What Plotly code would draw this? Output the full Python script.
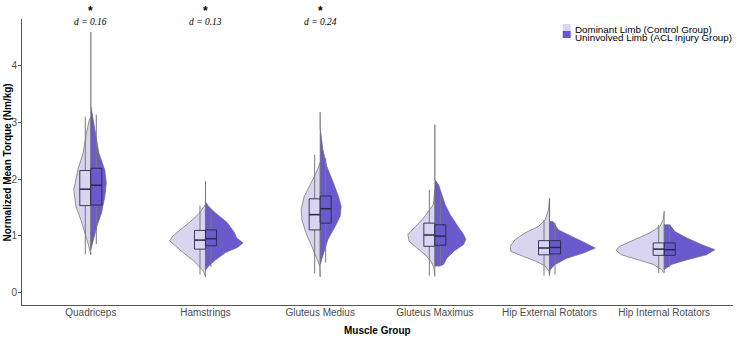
import plotly.graph_objects as go

# ---------------- data ----------------
categories = ["Quadriceps", "Hamstrings", "Gluteus Medius", "Gluteus Maximus",
              "Hip External Rotators", "Hip Internal Rotators"]

# violin half-profiles: y levels and relative density widths
ctrl_y = [
    [0.66, 0.81, 1.05, 1.28, 1.52, 1.81, 2.16, 2.46, 2.80, 3.05, 3.10],
    [0.27, 0.37, 0.46, 0.57, 0.69, 0.81, 0.91, 0.99, 1.10, 1.28, 1.40, 1.55],
    [0.27, 0.46, 0.57, 0.81, 1.05, 1.28, 1.46, 1.69, 1.93, 2.11, 2.29],
    [0.28, 0.43, 0.54, 0.66, 0.78, 0.90, 1.02, 1.13, 1.31, 1.49, 1.55, 1.81],
    [0.29, 0.37, 0.46, 0.54, 0.63, 0.72, 0.81, 0.93, 1.05, 1.16, 1.28, 1.46, 1.65],
    [0.34, 0.40, 0.49, 0.57, 0.66, 0.74, 0.81, 0.93, 1.05, 1.16, 1.28, 1.43],
]
ctrl_d = [
    [0, 2, 6, 10, 15, 17, 13, 7.7, 4.5, 1.5, 0],
    [0, 2, 6.7, 13, 21.7, 30, 36, 32.7, 25, 13, 6, 0],
    [0, 0.5, 2.7, 8.3, 14.3, 18.3, 19, 16, 9, 4, 0],
    [0, 1, 3.7, 9.7, 18, 25.7, 27, 21.3, 11.3, 4, 1.5, 0],
    [0, 0.5, 4.3, 12.7, 26, 38.7, 39.3, 34.3, 24.3, 11, 4.3, 1, 0],
    [0, 2.7, 11, 26, 42.7, 48.3, 44.3, 29.3, 14.3, 4.3, 1, 0],
]
acl_y = [
    [0.75, 0.93, 1.16, 1.40, 1.69, 1.93, 2.16, 2.46, 3.05, 3.30, 4.60],
    [0.39, 0.46, 0.57, 0.70, 0.79, 0.87, 0.96, 1.05, 1.23, 1.40, 1.52, 1.60, 1.96],
    [0.49, 0.69, 0.93, 1.16, 1.34, 1.52, 1.69, 1.93, 2.22, 2.52, 2.90, 3.18],
    [0.46, 0.46, 0.49, 0.60, 0.72, 0.84, 0.93, 1.02, 1.19, 1.37, 1.55, 1.72, 1.90, 1.99, 2.96],
    [0.31, 0.40, 0.49, 0.60, 0.69, 0.78, 0.87, 0.99, 1.10, 1.25, 1.25, 1.66],
    [0.40, 0.43, 0.49, 0.57, 0.66, 0.75, 0.84, 0.96, 1.07, 1.19, 1.19],
]
acl_d = [
    [0, 2.3, 6, 10.7, 14, 15.5, 14, 8, 2.3, 0, 0],
    [0, 3.3, 10, 20, 32, 37.5, 31, 29, 21.7, 10, 3, 0, 0],
    [0, 3.3, 7.7, 15, 20, 21, 18.3, 13.3, 6.7, 2.7, 0, 0],
    [0, 5, 8.7, 12, 18.7, 28.7, 31, 28.7, 22, 15.3, 10.3, 7, 3.7, 0, 0],
    [0, 0.7, 5.7, 17.3, 34, 45.7, 35.7, 22, 9, 3.3, 0, 0],
    [0, 2.3, 7.3, 22.3, 42.3, 50.7, 37.3, 22.3, 10.7, 5.7, 0],
]

# boxplot statistics
ctrl_q1 = [1.53, 0.76, 1.10, 0.81, 0.66, 0.65]
ctrl_med = [1.82, 0.92, 1.37, 1.01, 0.78, 0.76]
ctrl_q3 = [2.15, 1.09, 1.65, 1.22, 0.91, 0.87]
ctrl_lo = [0.67, 0.31, 0.33, 0.29, 0.29, 0.34]
ctrl_hi = [3.10, 1.53, 2.43, 1.81, 1.28, 1.19]
acl_q1 = [1.54, 0.82, 1.22, 0.83, 0.675, 0.65]
acl_med = [1.89, 0.945, 1.475, 0.99, 0.79, 0.75]
acl_q3 = [2.19, 1.10, 1.70, 1.19, 0.91, 0.87]
acl_lo = [0.85, 0.445, 0.52, 0.49, 0.31, 0.445]
acl_hi = [3.14, 1.47, 2.37, 1.72, 1.23, 1.18]

effect_labels = ["d = 0.16", "d = 0.13", "d = 0.24", "", "", ""]
y_ticks = [0, 1, 2, 3, 4]
legend_items = ["Dominant Limb (Control Group)", "Uninvolved Limb (ACL Injury Group)"]

# ---------------- styles ----------------
C_CTRL = "#d9d5f1"
C_ACL = "#6a5acd"
OUTLINE = "#6b6b6b"
BOXLINE = "#2a2648"
WHISK = "#7a7a7a"
VIOLIN_SCALE = 1 / 114.7
BOX_W = 0.096

fig = go.Figure()
n = len(categories)


def violin_path(sign, ys, ds):
    xs, yy = [], []
    for i, (yl, dl) in enumerate(zip(ys, ds)):
        xs += [i + sign * d * VIOLIN_SCALE for d in dl] + [i, i]
        yy += list(yl) + [yl[-1], yl[0]]
        xs.append(None)
        yy.append(None)
    return xs, yy


for sign, ys, ds, col in [(-1, ctrl_y, ctrl_d, C_CTRL), (1, acl_y, acl_d, C_ACL)]:
    xs, yy = violin_path(sign, ys, ds)
    fig.add_trace(go.Scatter(x=xs, y=yy, mode="lines", fill="toself", fillcolor=col,
                             line=dict(color=OUTLINE, width=0.7), showlegend=False,
                             hoverinfo="skip"))

# whiskers
for sign, lo, hi in [(-1, ctrl_lo, ctrl_hi), (1, acl_lo, acl_hi)]:
    xs, yy = [], []
    for i in range(n):
        xx = i + sign * BOX_W / 2
        xs += [xx, xx, None]
        yy += [lo[i], hi[i], None]
    fig.add_trace(go.Scatter(x=xs, y=yy, mode="lines", line=dict(color=WHISK, width=1),
                             showlegend=False, hoverinfo="skip"))

# boxes (q1..q3 rectangles) and medians
for sign, q1, med, q3, col in [(-1, ctrl_q1, ctrl_med, ctrl_q3, C_CTRL),
                                (1, acl_q1, acl_med, acl_q3, C_ACL)]:
    bx, by, mx, my = [], [], [], []
    for i in range(n):
        xa, xb = i, i + sign * BOX_W
        bx += [xa, xb, xb, xa, xa, None]
        by += [q1[i], q1[i], q3[i], q3[i], q1[i], None]
        mx += [xa, xb, None]
        my += [med[i], med[i], None]
    fig.add_trace(go.Scatter(x=bx, y=by, mode="lines", fill="toself", fillcolor=col,
                             line=dict(color=BOXLINE, width=0.9), showlegend=False,
                             hoverinfo="skip"))
    fig.add_trace(go.Scatter(x=mx, y=my, mode="lines", line=dict(color=BOXLINE, width=1.5),
                             showlegend=False, hoverinfo="skip"))

annotations = []
for i, lab in enumerate(effect_labels):
    if lab:
        annotations.append(dict(x=i, y=1.028, xref="x", yref="paper", text="<b>*</b>",
                                showarrow=False, yanchor="middle",
                                font=dict(size=12, color="black", family="Liberation Sans")))
        annotations.append(dict(x=i, y=0.988, xref="x", yref="paper", text="<i>" + lab + "</i>",
                                showarrow=False, yanchor="middle",
                                font=dict(size=9.5, color="black", family="Liberation Serif")))

# axis titles
annotations.append(dict(x=-0.0204, y=0.5, xref="paper", yref="paper", textangle=-90,
                        xanchor="center", yanchor="middle",
                        text="<b>Normalized Mean Torque (Nm/kg)</b>", showarrow=False,
                        font=dict(size=10, color="black", family="Liberation Sans")))
annotations.append(dict(x=0.5, y=-0.0898, xref="paper", yref="paper", yanchor="middle",
                        xanchor="center",
                        text="<b>Muscle Group</b>", showarrow=False,
                        font=dict(size=10, color="black", family="Liberation Sans")))

# legend (manual, compact like the reference)
shapes = []
for k, (lab, col) in enumerate(zip(legend_items, [C_CTRL, C_ACL])):
    yp = 0.9825 - k * 0.0245
    shapes.append(dict(type="rect", xref="paper", yref="paper", xsizemode="pixel",
                       ysizemode="pixel", xanchor=0.7605, yanchor=yp, x0=0, x1=8,
                       y0=0, y1=-7, fillcolor=col, line=dict(width=0)))
    annotations.append(dict(x=0.7745, y=0.965 - k * 0.028, xref="paper", yref="paper",
                            xanchor="left", yanchor="middle", text=lab, showarrow=False,
                            font=dict(size=9.8, color="black", family="Liberation Sans")))

fig.update_layout(
    width=737, height=339,
    margin=dict(l=22, r=4, t=19, b=34, autoexpand=False),
    paper_bgcolor="white", plot_bgcolor="white",
    showlegend=False,
    annotations=annotations,
    shapes=shapes,
    font=dict(family="Liberation Sans"),
)
fig.update_xaxes(range=[-0.6, 5.6], tickvals=list(range(n)),
                 ticktext=categories, showgrid=False, zeroline=False, showline=True,
                 linecolor="#555555", linewidth=1, ticks="", automargin=False,
                 ticklabelstandoff=-2,
                 tickfont=dict(size=10, color="#4d4d4d"))
fig.update_yaxes(range=[-0.228, 4.83], tickvals=y_ticks, showgrid=False, zeroline=False,
                 showline=True, linecolor="#555555", linewidth=1, ticks="outside",
                 ticklen=3, tickcolor="#555555", automargin=False,
                 ticklabelstandoff=-1,
                 tickfont=dict(size=10, color="#4d4d4d"))

fig.write_html("out.html", config={"displayModeBar": False},
               post_script="document.body.style.margin='0';")
